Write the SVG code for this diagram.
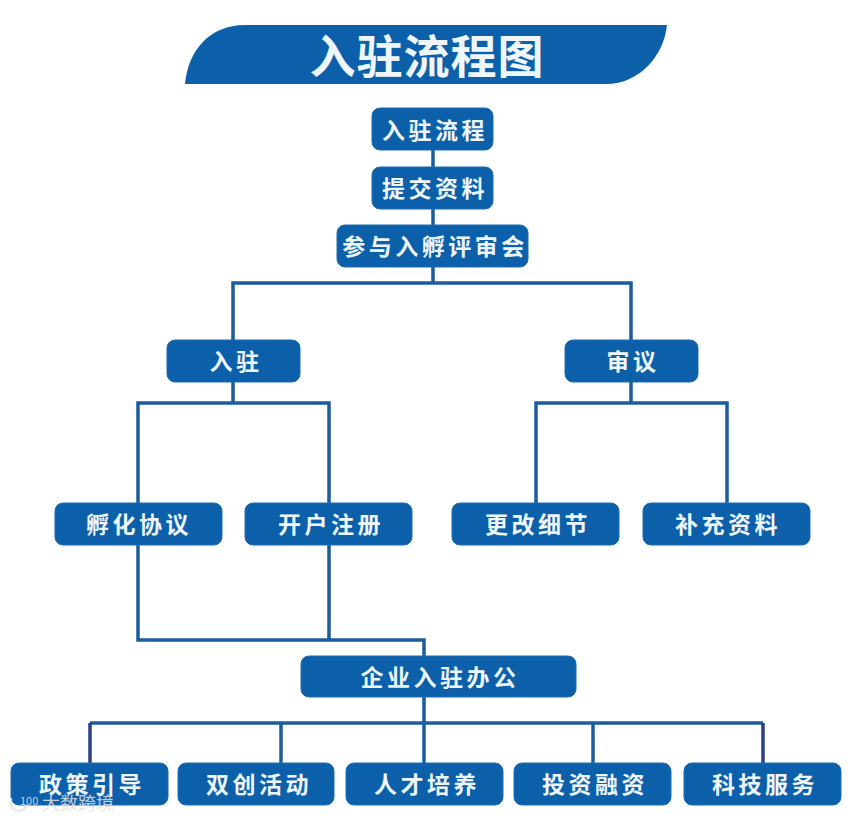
<svg xmlns="http://www.w3.org/2000/svg" width="866" height="819" viewBox="0 0 866 819">
<style>
.box{fill:#0c60aa;stroke:#1a6db3;stroke-width:1}
.t{fill:#eef6fb;font-family:"Noto Sans CJK SC",sans-serif;font-weight:700;text-anchor:middle;font-size:23px;letter-spacing:3.5px}
.ln{fill:none;stroke:#1b5c9c;stroke-width:3.5}
.dk{fill:none;stroke:#2a3f86;stroke-width:3.5}
.wm{fill:#e4e4e4;fill-opacity:.85;font-family:"Noto Sans CJK SC",sans-serif;font-weight:400}
</style>
<rect width="866" height="819" fill="#fff"/>
<g id="connectors">
<path class="ln" d="M433 150V225M433 267V283M233 340V283H631V340M233 382V403M138 503V403H329V503M631 382V403M536 503V403H727V503M138 545V640H424V656M329 545V640M424 697V766M281 723V766M593 723V766M90 723H763"/>
<path class="dk" d="M90 723V764M763 723V764"/>
</g>
<g id="title"><path d="M185 84C188 50 210 25 245 25H667C664 55 640 84 606 84Z" fill="#0c60aa"/><text x="427" y="73" class="t" style="font-size:46px;letter-spacing:1px">入驻流程图</text></g>
<g id="n1"><rect class="box" x="372" y="108" width="121" height="42" rx="8"/><text class="t" x="435" y="139">入驻流程</text></g>
<g id="n2"><rect class="box" x="372" y="167" width="121" height="42" rx="8"/><text class="t" x="435" y="197">提交资料</text></g>
<g id="n3"><rect class="box" x="337" y="225" width="191" height="42" rx="8"/><text class="t" x="435" y="255">参与入孵评审会</text></g>
<g id="n4"><rect class="box" x="167" y="340" width="133" height="42" rx="8"/><text class="t" x="236" y="370">入驻</text></g>
<g id="n5"><rect class="box" x="565" y="340" width="133" height="42" rx="8"/><text class="t" x="633" y="370">审议</text></g>
<g id="n6"><rect class="box" x="55" y="503" width="167" height="42" rx="8"/><text class="t" x="139" y="533">孵化协议</text></g>
<g id="n7"><rect class="box" x="245" y="503" width="167" height="42" rx="8"/><text class="t" x="331" y="533">开户注册</text></g>
<g id="n8"><rect class="box" x="452" y="503" width="167" height="42" rx="8"/><text class="t" x="538" y="533">更改细节</text></g>
<g id="n9"><rect class="box" x="643" y="503" width="167" height="42" rx="8"/><text class="t" x="728" y="533">补充资料</text></g>
<g id="n10"><rect class="box" x="301" y="656" width="275" height="41" rx="8"/><text class="t" x="440" y="686">企业入驻办公</text></g>
<g id="n11"><rect class="box" x="11" y="763" width="157" height="42" rx="8"/><text class="t" x="92" y="793">政策引导</text></g>
<g id="n12"><rect class="box" x="178" y="763" width="156" height="42" rx="8"/><text class="t" x="259" y="793">双创活动</text></g>
<g id="n13"><rect class="box" x="346" y="763" width="157" height="42" rx="8"/><text class="t" x="427" y="793">人才培养</text></g>
<g id="n14"><rect class="box" x="514" y="763" width="157" height="42" rx="8"/><text class="t" x="595" y="793">投资融资</text></g>
<g id="n15"><rect class="box" x="684" y="763" width="157" height="42" rx="8"/><text class="t" x="765" y="793">科技服务</text></g>
<g id="watermark"><path d="M11 798C9 814 23 814 27 805" fill="none" stroke="#e4e4e4" stroke-opacity=".85" stroke-width="2.5"/><text class="wm" x="20" y="805" font-size="11">100</text><text class="wm" x="42" y="810" font-size="18">大数跨境</text></g>
</svg>
